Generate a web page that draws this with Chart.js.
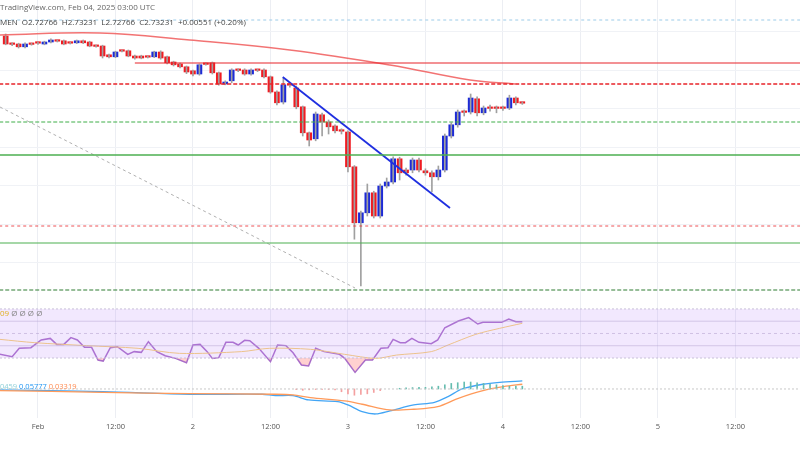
<!DOCTYPE html>
<html><head><meta charset="utf-8">
<script src="https://cdn.jsdelivr.net/npm/chart.js@4/dist/chart.umd.min.js"></script>
<style>
body{margin:0;width:800px;height:450px;background:#fff;overflow:hidden;position:relative;font-family:"Open Sans",Roboto,sans-serif}
canvas{position:absolute;left:0}
.t{position:absolute;font-size:8px;white-space:nowrap;color:#555}
</style></head><body>
<canvas id="main" style="top:0" width="800" height="300"></canvas>
<canvas id="rsi" style="top:300px" width="800" height="78"></canvas>
<canvas id="macd" style="top:378px" width="800" height="72"></canvas>
<div class="t" style="left:0;top:1px;color:#666">TradingView.com, Feb 04, 2025 03:00 UTC</div>
<div class="t" style="left:0;top:16px;color:#444">MEN&nbsp; O2.72766 &nbsp;H2.73231 &nbsp;L2.72766 &nbsp;C2.73231 &nbsp;+0.00551 (+0.20%)</div>
<div class="t" style="left:0;top:307px"><span style="color:#e0b020">09</span> <span style="color:#888">Ø Ø Ø Ø</span></div>
<div class="t" style="left:0;top:381px;font-size:7.5px"><span style="color:#8fd0d8">0459</span> <span style="color:#2196f3">0.05777</span> <span style="color:#ff8a50">0.03319</span></div>
<script>
const hours = Array.from({length:81},(_, i)=>i-5);
const opens = [2.900,2.880,2.880,2.873,2.880,2.883,2.880,2.885,2.888,2.888,2.883,2.883,2.888,2.885,2.875,2.875,2.853,2.848,2.863,2.863,2.850,2.850,2.848,2.848,2.860,2.848,2.835,2.830,2.823,2.813,2.805,2.830,2.833,2.808,2.780,2.788,2.815,2.815,2.805,2.815,2.815,2.798,2.760,2.735,2.778,2.770,2.723,2.658,2.643,2.703,2.685,2.675,2.663,2.660,2.573,2.433,2.458,2.508,2.450,2.525,2.535,2.593,2.565,2.565,2.590,2.563,2.558,2.548,2.565,2.650,2.678,2.710,2.710,2.743,2.708,2.720,2.720,2.720,2.720,2.745,2.733];
const closes = [2.880,2.879,2.873,2.880,2.879,2.882,2.885,2.890,2.887,2.880,2.882,2.888,2.883,2.875,2.874,2.850,2.848,2.860,2.862,2.850,2.845,2.845,2.847,2.860,2.845,2.833,2.828,2.823,2.810,2.805,2.828,2.829,2.808,2.780,2.785,2.815,2.814,2.805,2.815,2.814,2.798,2.760,2.733,2.778,2.777,2.723,2.658,2.640,2.705,2.685,2.673,2.663,2.662,2.573,2.433,2.458,2.508,2.450,2.525,2.535,2.593,2.558,2.558,2.590,2.565,2.558,2.548,2.565,2.650,2.678,2.710,2.709,2.745,2.708,2.720,2.719,2.719,2.719,2.745,2.733,2.732];
const highs = [2.905,2.883,2.882,2.883,2.882,2.885,2.887,2.893,2.890,2.890,2.885,2.890,2.890,2.887,2.877,2.877,2.855,2.862,2.865,2.865,2.852,2.852,2.850,2.862,2.863,2.850,2.837,2.832,2.825,2.815,2.830,2.832,2.835,2.810,2.788,2.818,2.818,2.818,2.818,2.817,2.818,2.800,2.763,2.795,2.782,2.775,2.725,2.660,2.710,2.707,2.690,2.678,2.668,2.663,2.576,2.462,2.530,2.512,2.530,2.545,2.598,2.597,2.570,2.595,2.595,2.568,2.563,2.575,2.655,2.683,2.715,2.715,2.755,2.748,2.725,2.727,2.725,2.725,2.752,2.748,2.735];
const lows = [2.878,2.876,2.870,2.870,2.877,2.879,2.878,2.883,2.885,2.878,2.880,2.881,2.881,2.873,2.872,2.845,2.845,2.846,2.860,2.848,2.842,2.843,2.845,2.846,2.842,2.830,2.825,2.820,2.806,2.800,2.802,2.827,2.805,2.777,2.778,2.783,2.811,2.802,2.802,2.811,2.795,2.757,2.728,2.730,2.772,2.718,2.650,2.625,2.638,2.650,2.655,2.658,2.655,2.560,2.392,2.275,2.450,2.445,2.445,2.520,2.530,2.540,2.552,2.558,2.560,2.552,2.510,2.540,2.560,2.645,2.672,2.700,2.705,2.700,2.703,2.712,2.708,2.714,2.716,2.728,2.729];
const maX = [-5.9,9.6,23.5,39.0,54.5,66.9,73.9];
const maY = [2.9025,2.9075,2.890,2.865,2.8275,2.790,2.780];
const rsiX = [-5.9,-4.0,-2.9,-1.1,0.5,1.9,2.9,4.0,5.1,6.1,7.2,8.3,9.3,10.1,11.2,12.3,13.9,14.9,16.0,17.1,18.4,19.7,21.3,23.0,24.0,25.1,26.2,27.0,28.0,29.1,30.2,31.0,32.0,32.8,34.2,36.0,37.1,38.4,39.5,40.8,41.9,43.0,44.3,46.7,47.5,49.1,50.7,51.8,53.1,54.2,55.0,56.1,56.9,57.9,59.0,60.9,61.9,63.0,65.1,66.7,68.1,68.9,71.8,72.9,74.0,75.0];
const rsiV = [33.0,31.1,37.9,38.4,44.7,46.0,41.1,41.1,46.6,44.7,38.7,38.7,28.4,27.5,38.4,39.2,33.0,35.2,34.6,43.3,35.2,31.9,29.7,26.2,40.6,41.1,35.2,29.7,30.3,42.8,42.8,40.6,44.4,44.1,37.9,27.0,40.6,40.1,34.3,24.3,23.5,37.9,35.2,33.0,29.7,18.3,28.4,28.4,37.9,38.4,45.2,42.5,42.5,46.0,42.8,41.7,44.7,54.7,60.2,62.9,57.7,59.1,59.1,61.8,59.6,59.6];
const rsiMaX = [-5.9,-0.5,7.5,15.5,21.9,31.5,35.8,42.2,47.5,52.3,55.5,60.9,63.5,67.8,71.5,75.0];
const rsiMaV = [45.2,42.5,40.1,37.9,33.8,35.2,37.9,37.1,33.0,29.7,32.4,35.2,40.6,49.3,54.2,58.3];
const macdX = [-5.9,10.1,23.5,34.7,36.8,39.5,41.9,46.4,48.0,50.2,52.3,54.5,58.2,61.4,63.5,65.7,68.9,71.5,75.0];
const macdV = [-0.007,-0.019,-0.038,-0.038,-0.048,-0.048,-0.079,-0.091,-0.115,-0.163,-0.180,-0.158,-0.115,-0.096,-0.055,0.000,0.034,0.048,0.058];
const sigX = [-5.9,10.1,23.5,36.8,39.5,42.2,47.5,50.2,54.5,58.2,61.9,65.1,68.9,72.1,75.0];
const sigV = [-0.012,-0.024,-0.034,-0.038,-0.043,-0.062,-0.086,-0.110,-0.151,-0.146,-0.127,-0.067,-0.012,0.017,0.034];
const histX = [40,41,42,43,44,45,46,47,48,49,50,51,52,53,56,57,58,59,60,61,62,63,64,65,66,67,68,69,70,71,72,73,74,75];
const histV = [-0.005,-0.01,-0.006,-0.004,-0.003,-0.004,-0.006,-0.02,-0.035,-0.045,-0.04,-0.035,-0.025,-0.012,0.005,0.008,0.01,0.012,0.012,0.015,0.02,0.03,0.04,0.045,0.05,0.05,0.045,0.04,0.035,0.03,0.025,0.02,0.02,0.02];
const dayLabels = {0:'Feb',12:'12:00',24:'2',36:'12:00',48:'3',60:'12:00',72:'4',84:'12:00',96:'5',108:'12:00'};
const levels = [
 {y:2.940,x0:-6,c:'#9ccbe8',w:1,d:[3,3]},
 {y:2.8325,x0:15,c:'#e8242a',w:1.2,d:[]},
 {y:2.780,x0:-6,c:'#e8242a',w:1.5,d:[4,2]},
 {y:2.685,x0:-6,c:'#3fae49',w:1,d:[4,2]},
 {y:2.6025,x0:-6,c:'#4caf50',w:1.5,d:[]},
 {y:2.425,x0:-6,c:'#e8242a',w:0.8,d:[3,3]},
 {y:2.3825,x0:-6,c:'#4caf50',w:1.2,d:[]},
 {y:2.265,x0:-6,c:'#2e7d32',w:1.2,d:[4,2]}
];
const XMIN=-5.88, XMAX=118;
Chart.defaults.animation=false;
Chart.defaults.font.family='"Open Sans",Roboto,sans-serif';
const gridX = {display:true,offset:false,min:XMIN,max:XMAX,ticks:{display:false,stepSize:12},grid:{color:'#eceef3',drawTicks:false,offset:false},border:{display:false},afterBuildTicks(a){a.ticks=[0,12,24,36,48,60,72,84,96,108].map(v=>({value:v}));},afterFit(a){a.height=0}};
function hideY(min,max,grid){return {min,max,ticks:{display:false},grid:grid||{display:false},border:{display:false},afterFit(a){a.width=0}}}
const lineDs = levels.map(l=>({type:'line',data:[{x:l.x0,y:l.y},{x:XMAX,y:l.y}],borderColor:l.c,borderWidth:l.w,borderDash:l.d,pointRadius:0}));
new Chart(document.getElementById('main'),{
 data:{datasets:[
  ...lineDs,
  {type:'line',data:[{x:-5.88,y:2.7225},{x:49.1,y:2.27}],borderColor:'#b0b0b0',borderWidth:1,borderDash:[3,3],pointRadius:0},
  {type:'line',data:maX.map((x,i)=>({x,y:maY[i]})),borderColor:'rgba(240,90,90,0.85)',borderWidth:1.5,pointRadius:0,tension:0.4},
  {type:'line',data:[{x:37.9,y:2.7975},{x:63.8,y:2.47}],borderColor:'#1f2fe0',borderWidth:1.8,pointRadius:0},
  {type:'bar',data:hours.map((h,i)=>({x:h,y:[lows[i],highs[i]]})),backgroundColor:'#a0a0a0',barThickness:1,grouped:false},
  {type:'bar',data:hours.map((h,i)=>({x:h,y:[opens[i],closes[i]]})),backgroundColor:hours.map((h,i)=>closes[i]<opens[i]?'#ef1c22':(closes[i]>opens[i]?'#1d2bd6':'#777')),barThickness:5,minBarLength:1.5,grouped:false}
 ]},
 options:{responsive:false,layout:{padding:0},plugins:{legend:{display:false},tooltip:{enabled:false}},
  scales:{x:{type:'linear',...gridX},y:{...hideY(2.24,2.99,{color:'#f0f2f6',drawTicks:false}),afterBuildTicks(a){const t=[];for(let v=2.815+0.09625;v>2.24;v-=0.09625)t.push({value:v});a.ticks=t;}}}}
});
new Chart(document.getElementById('rsi'),{
 type:'line',
 data:{datasets:[
  {data:[{x:XMIN,y:70},{x:XMAX,y:70}],borderColor:'#c8c0d8',borderWidth:1,borderDash:[2,2],pointRadius:0},
  {data:[{x:XMIN,y:30},{x:XMAX,y:30}],borderColor:'#c8c0d8',borderWidth:1,borderDash:[2,2],pointRadius:0,fill:'-1',backgroundColor:'rgba(190,140,250,0.2)'},
  {data:[{x:XMIN,y:60},{x:XMAX,y:60}],borderColor:'rgba(180,170,200,0.5)',borderWidth:1,pointRadius:0},
  {data:[{x:XMIN,y:50},{x:XMAX,y:50}],borderColor:'rgba(180,170,200,0.6)',borderWidth:1,borderDash:[3,3],pointRadius:0},
  {data:[{x:XMIN,y:40},{x:XMAX,y:40}],borderColor:'rgba(180,170,200,0.5)',borderWidth:1,pointRadius:0},
  {data:rsiMaX.map((x,i)=>({x,y:rsiMaV[i]})),borderColor:'#f8d070',borderWidth:1,pointRadius:0,tension:0.3},
  {data:rsiX.map((x,i)=>({x,y:rsiV[i]})),borderColor:'#a86cc8',borderWidth:1.5,pointRadius:0,fill:{target:{value:30},above:'transparent',below:'rgba(255,120,120,0.35)'}}
 ]},
 options:{responsive:false,layout:{padding:0},plugins:{legend:{display:false},tooltip:{enabled:false}},
  scales:{x:{type:'linear',...gridX},y:hideY(13.7,77.3)}}
});
new Chart(document.getElementById('macd'),{
 data:{datasets:[
  {type:'line',data:[{x:XMIN,y:0},{x:XMAX,y:0}],borderColor:'#c8c8c8',borderWidth:1,borderDash:[2,2],pointRadius:0},
  {type:'bar',data:histX.map((x,i)=>({x,y:histV[i]})),backgroundColor:histV.map(v=>v<0?'#f4a0a0':'#66bdb0'),barThickness:1},
  {type:'line',data:sigX.map((x,i)=>({x,y:sigV[i]})),borderColor:'#ff9a5a',borderWidth:1.3,pointRadius:0,tension:0.3},
  {type:'line',data:macdX.map((x,i)=>({x,y:macdV[i]})),borderColor:'#42a5f5',borderWidth:1.3,pointRadius:0,tension:0.3}
 ]},
 options:{responsive:false,layout:{padding:0},plugins:{legend:{display:false},tooltip:{enabled:false}},
  scales:{x:{type:'linear',offset:false,min:XMIN,max:XMAX,grid:{color:'#eceef3',drawTicks:false,offset:false},border:{display:false},
    ticks:{padding:4,color:'#555',font:{size:7.5},autoSkip:false,maxRotation:0,callback:v=>dayLabels[v]!==undefined?dayLabels[v]:''},
    afterBuildTicks(a){a.ticks=Object.keys(dayLabels).map(k=>({value:+k}));},afterFit(a){a.height=32}},
   y:hideY(-0.209,0.079)}}
});
</script></body></html>
